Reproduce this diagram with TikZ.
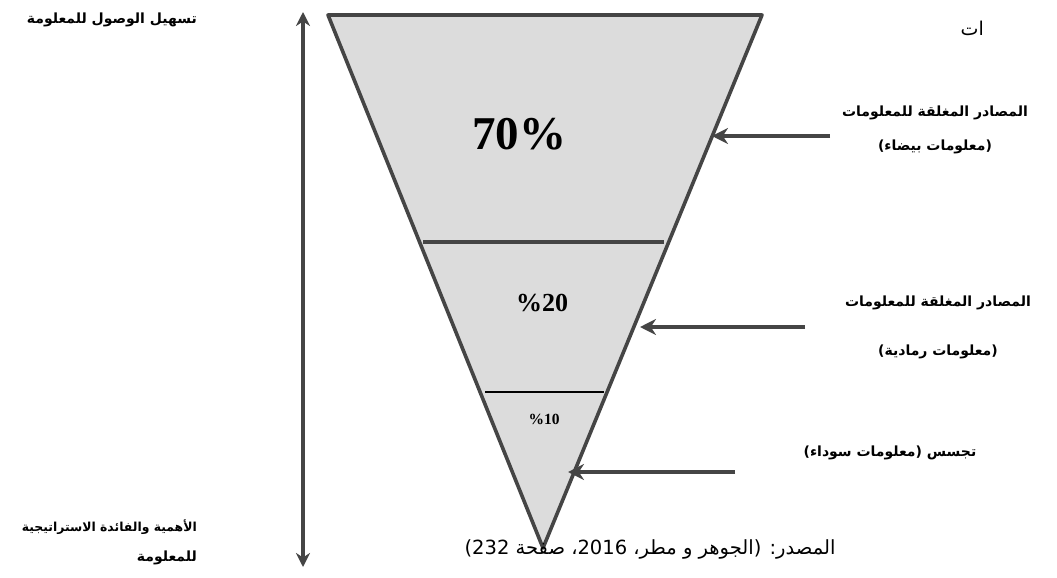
\documentclass[tikz,border=0pt]{standalone}
\usepackage{fontspec}
\setmainfont{Liberation Serif}
\newfontfamily\arabicfont[Script=Arabic]{DejaVu Sans}
\TeXXeTstate=1
\usetikzlibrary{arrows.meta}
\definecolor{funnelfill}{HTML}{DCDCDC}
\definecolor{edgegray}{HTML}{454545}
\tikzset{
  edge/.style={draw=edgegray, line width=3.6pt, line join=round},
  pointer/.style={draw=edgegray, line width=3.2pt, -{Stealth[length=16pt,width=16pt,fill=edgegray]}},
  axis/.style={draw=edgegray, line width=3.2pt, {Stealth[length=14pt,width=14pt]}-{Stealth[length=14pt,width=14pt]}},
  lbl/.style={font=\arabicfont\bfseries\fontsize{14}{16}\selectfont, inner sep=0pt, align=center},
  pct/.style={font=\bfseries, inner sep=0pt}
}
\begin{document}
\begin{tikzpicture}[x=1pt,y=-1pt]
\useasboundingbox (0,0) rectangle (1057,578);
% funnel
\coordinate (tl) at (328,15);
\coordinate (tr) at (762,15);
\coordinate (ap) at (543,548);
\fill[funnelfill] (tl) -- (tr) -- (ap) -- cycle;
\draw[edge] (tl) -- (tr) -- (ap) -- cycle;
\coordinate (l1a) at (423,242);
\coordinate (l1b) at (664,242);
\draw[edgegray, line width=3.6pt] (l1a) -- (l1b);
\coordinate (l2a) at (485,392);
\coordinate (l2b) at (604,392);
\draw[black, line width=2.2pt] (l2a) -- (l2b);
% percentages
\node[pct, font=\bfseries\fontsize{47}{47}\selectfont] (p70) at (519,134) {70\%};
\node[pct, font=\bfseries\fontsize{26}{26}\selectfont] (p20) at (542,303) {\%20};
\node[pct, font=\bfseries\fontsize{15.5}{15.5}\selectfont] (p10) at (544,419) {\%10};
% vertical axis
\coordinate (axt) at (303,12);
\coordinate (axb) at (303,567);
\draw[axis] (axb) -- (axt);
\node[lbl, anchor=east] (top) at (197,20) {\arabicfont\beginR تسهيل الوصول للمعلومة\endR};
\node[lbl, anchor=east, font=\arabicfont\bfseries\fontsize{12.4}{14}\selectfont] (bot1) at (197,527) {\arabicfont\beginR الأهمية والفائدة الاستراتيجية\endR};
\node[lbl, anchor=east] (bot2) at (197,558) {\arabicfont\beginR للمعلومة\endR};
% truncated heading
\node[inner sep=0pt, font=\arabicfont\fontsize{19}{19}\selectfont, anchor=east] (hd) at (984,28) {\beginR ات\endR};
% right labels
\node[lbl] (w1) at (935,113) {\beginR المصادر المغلقة للمعلومات\endR};
\node[lbl] (w2) at (935,147) {\beginR (معلومات بيضاء)\endR};
\node[lbl] (g1) at (938,303) {\beginR المصادر المغلقة للمعلومات\endR};
\node[lbl] (g2) at (938,352) {\beginR (معلومات رمادية)\endR};
\node[lbl] (b1) at (890,453) {\beginR تجسس (معلومات سوداء)\endR};
% pointers
\coordinate (a1s) at (830,136);
\coordinate (a1e) at (712,136);
\coordinate (a2s) at (805,327);
\coordinate (a2e) at (640,327);
\coordinate (a3s) at (735,472);
\coordinate (a3e) at (568,472);
\draw[pointer] (a1s) -- (a1e);
\draw[pointer] (a2s) -- (a2e);
\draw[pointer] (a3s) -- (a3e);
% source
\node[inner sep=0pt, font=\arabicfont\fontsize{19.5}{20}\selectfont] (src) at (650,549) {\beginR المصدر: (الجوهر و مطر، 2016، صفحة 232)\endR};
\end{tikzpicture}
\end{document}
